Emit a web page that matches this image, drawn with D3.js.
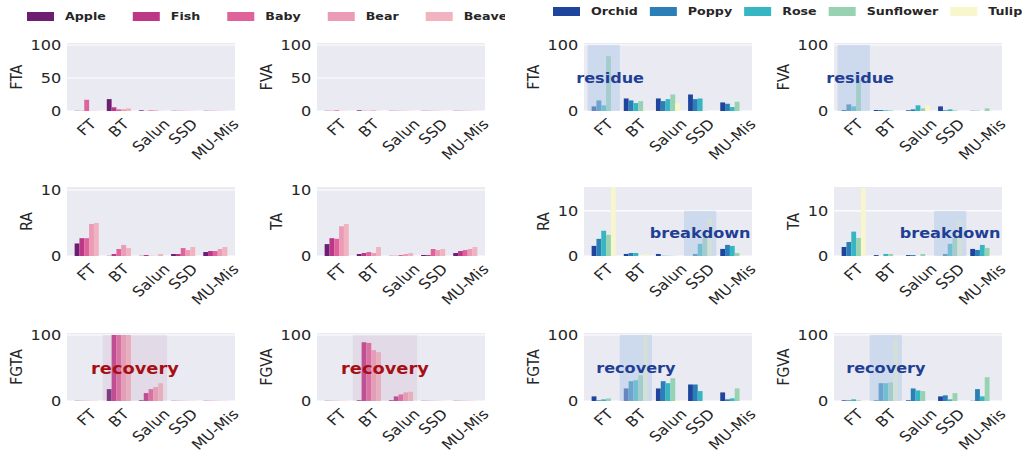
<!DOCTYPE html>
<html>
<head>
<meta charset="utf-8">
<script src="https://cdn.jsdelivr.net/npm/d3@7"></script>
<style>
  body { margin: 0; background: #fff; }
  text { font-family: "DejaVu Sans", sans-serif; }
</style>
</head>
<body>
<svg id="chart" width="1025" height="456"></svg>
<script>
// categories and series
var groups = ["FT", "BT", "Salun", "SSD", "MU-Mis"];
var leftNames = ["Apple", "Fish", "Baby", "Bear", "Beaver"];
var rightNames = ["Orchid", "Poppy", "Rose", "Sunflower", "Tulip"];
var leftColors = ["#6e1e72", "#bd3787", "#e0629b", "#eb9bb5", "#f0b3bf"];
var rightColors = ["#1f449b", "#2a7fb8", "#35b6c2", "#97d2b1", "#f7f6cc"];

// values[group][series]
var leftFTA = [[0.3,0.3,17,0.3,0.3],[18,5.6,2.5,2.5,4],[1,0.2,1,1,0.3],[0.3,0.3,0.3,0.3,0.3],[0.3,0.3,0.3,0.3,0.3]];
var leftFVA = [[0.3,0.3,1,0.3,0.3],[1,0.3,0.3,1,0.3],[0.3,0.3,0.3,0.3,0.3],[0.3,0.3,0.3,0.3,0.3],[0.3,0.3,0.3,0.3,0.3]];
var rightFTA = [[7,16,8.6,83,0],[19,16,12,15,1.5],[19,15,18,25,12],[25,18,19,0.3,0],[13,11,6,14,0]];
var rightFVA = [[1.5,10,7,47,0],[1.5,1.5,1,1,0],[1,2.5,8.6,4,8.6],[7,1,2.5,1,0],[0.3,0.3,0,4,0]];

var leftRA = [[1.9,2.7,2.7,4.85,5.0],[0.03,0.3,1.06,1.67,1.2],[0.03,0.15,0.03,0.03,0.3],[0.3,0.3,1.2,0.9,1.36],[0.6,0.75,0.75,1.06,1.36]];
var leftTA = [[1.8,2.7,2.6,4.5,4.85],[0.3,0.45,0.6,0.45,1.36],[0.03,0.03,0.15,0.3,0.45],[0.15,0.15,1.06,0.9,1.06],[0.45,0.75,0.9,1.06,1.36]];
var rightRA = [[2.24,3.8,5.6,4.7,16],[0.45,0.67,0.67,0,0.45],[0.45,0.05,0.05,0.05,0],[0,0.45,2.7,4.0,8.5],[1.57,2.46,2.24,0.67,0.2]];
var rightTA = [[2.0,3.1,5.4,4.0,15],[0.2,0,0.45,0.45,0],[0.2,0.2,0,0.45,0],[0,0.45,2.7,4.0,7.8],[1.57,1.34,2.46,1.8,0.2]];

var leftFGTA = [[0.3,0.3,0.3,0.3,0.3],[18,100,100,100,100],[1,12,18,21,27],[0.3,0.3,0.3,0.3,0.3],[0.3,0.3,0.3,0.3,0.3]];
var leftFGVA = [[0.3,0.3,0.3,0.3,0.3],[1,89,88,77,74],[1,7,10,13,14],[0.3,0.3,0.3,0.3,0.3],[0.3,0.3,0.3,0.3,0.3]];
var rightFGTA = [[7,1,2.5,4,0],[19,30,31.5,39,100],[19,30,27,34.5,1.5],[25,25,15,0,0],[13,2.5,4,19,0]];
var rightFGVA = [[1,1,2.5,1,0],[1,27,27,28,94],[1,19,16,15,0],[7,8.6,2.5,12,0],[0.3,18,7,36,0]];

var ticksBig = [0, 50, 100];
var ticksSmall = [0, 10];
var ticksTwo = [0, 100];

// layout
var SX = 1.15, FS = 14;
var colX = [67, 317, 584, 834];
var rowY = [43, 187, 333];
var pw = 168;
var svg = d3.select("#chart");

var blueNote = { fill: "#b0c8e6", alpha: 0.5, ink: "#1f3f94", size: 14 };
var redNote = { fill: "#c8a4bc", alpha: 0.22, ink: "#a50f15", size: 15.5 };

var panels = [
  { r:0, c:0, label:"FTA", data:leftFTA, colors:leftColors, ymax:103, ticks:ticksBig },
  { r:0, c:1, label:"FVA", data:leftFVA, colors:leftColors, ymax:103, ticks:ticksBig },
  { r:0, c:2, label:"FTA", data:rightFTA, colors:rightColors, ymax:103, ticks:ticksTwo,
    note:{ x0:-0.5, x1:0.5, top:100, text:"residue", tx:0.2, ty:50, style:blueNote } },
  { r:0, c:3, label:"FVA", data:rightFVA, colors:rightColors, ymax:103, ticks:ticksTwo,
    note:{ x0:-0.5, x1:0.5, top:100, text:"residue", tx:0.2, ty:50, style:blueNote } },
  { r:1, c:0, label:"RA", data:leftRA, colors:leftColors, ymax:10.45, ticks:ticksSmall },
  { r:1, c:1, label:"TA", data:leftTA, colors:leftColors, ymax:10.45, ticks:ticksSmall },
  { r:1, c:2, label:"RA", data:rightRA, colors:rightColors, ymax:15.3, ticks:ticksSmall,
    note:{ x0:2.5, x1:3.5, top:10, text:"breakdown", tx:3, ty:5, style:blueNote } },
  { r:1, c:3, label:"TA", data:rightTA, colors:rightColors, ymax:15.3, ticks:ticksSmall,
    note:{ x0:2.5, x1:3.5, top:10, text:"breakdown", tx:3, ty:5, style:blueNote } },
  { r:2, c:0, label:"FGTA", data:leftFGTA, colors:leftColors, ymax:103, ticks:ticksTwo,
    note:{ x0:0.5, x1:2.5, top:100, text:"recovery", tx:1.5, ty:50, style:redNote } },
  { r:2, c:1, label:"FGVA", data:leftFGVA, colors:leftColors, ymax:103, ticks:ticksTwo,
    note:{ x0:0.5, x1:2.5, top:100, text:"recovery", tx:1.5, ty:50, style:redNote } },
  { r:2, c:2, label:"FGTA", data:rightFGTA, colors:rightColors, ymax:103, ticks:ticksTwo,
    note:{ x0:0.5, x1:1.5, top:100, text:"recovery", tx:1, ty:50, style:blueNote } },
  { r:2, c:3, label:"FGVA", data:rightFGVA, colors:rightColors, ymax:103, ticks:ticksTwo,
    note:{ x0:0.5, x1:1.5, top:100, text:"recovery", tx:1, ty:50, style:blueNote } }
];

var barW = 0.15;

panels.forEach(function(p, k) {
  var ph = p.r == 1 ? 69 : 68;
  var g = svg.append("g").attr("transform", "translate(" + colX[p.c] + "," + rowY[p.r] + ")");
  var x = d3.scaleLinear().domain([-0.6125, 4.6125]).range([0, pw]);
  var y = d3.scaleLinear().domain([0, p.ymax]).range([ph, 0]);

  g.append("rect").attr("width", pw).attr("height", ph).attr("fill", "#eaeaf2");

  g.selectAll(".grid").data(p.ticks).enter().append("line")
    .attr("x1", 0).attr("x2", pw)
    .attr("y1", function(d) { return y(d); }).attr("y2", function(d) { return y(d); })
    .attr("stroke", "#fff").attr("stroke-width", 1.1);

  svg.append("clipPath").attr("id", "clip" + k)
    .append("rect").attr("width", pw).attr("height", ph);
  var plot = g.append("g").attr("clip-path", "url(#clip" + k + ")");

  // bars
  p.data.forEach(function(vals, gi) {
    plot.selectAll(".b" + gi).data(vals).enter().append("rect")
      .attr("x", function(d, si) { return x(gi + (si - 2) * barW - barW / 2); })
      .attr("width", x(barW) - x(0))
      .attr("y", function(d) { return y(Math.max(d, 0)); })
      .attr("height", function(d) { return Math.abs(y(0) - y(d)); })
      .attr("fill", function(d, si) { return p.colors[si]; });
  });

  // highlight span + note
  if (p.note) {
    var n = p.note;
    plot.append("rect")
      .attr("x", x(n.x0)).attr("width", x(n.x1) - x(n.x0))
      .attr("y", y(n.top)).attr("height", y(0) - y(n.top))
      .attr("fill", n.style.fill).attr("opacity", n.style.alpha);
    g.append("text")
      .attr("transform", "translate(" + x(n.tx) + "," + y(n.ty) + ") scale(" + SX + ",1)")
      .attr("text-anchor", "middle").attr("dominant-baseline", "central")
      .attr("font-size", n.style.size).attr("font-weight", "bold")
      .attr("fill", n.style.ink).text(n.text);
  }

  // y axis
  var ax = g.append("g")
    .call(d3.axisLeft(y).tickValues(p.ticks).tickSize(0).tickPadding(5).tickFormat(d3.format("d")));
  ax.select(".domain").remove();
  ax.selectAll("text").attr("font-size", FS).attr("fill", "#262626")
    .attr("font-family", "DejaVu Sans")
    .attr("transform", "scale(" + SX + ",1)");
  var bb = ax.node().getBBox();

  g.append("text")
    .attr("transform", "translate(" + (bb.x - 9) + "," + (ph / 2) + ") scale(" + SX + ",1) rotate(-90)")
    .attr("text-anchor", "middle").attr("font-size", FS).attr("fill", "#262626")
    .text(p.label);

  // x tick labels rotated 45, layout box top aligned under the axis
  groups.forEach(function(name, gi) {
    var t = g.append("text")
      .attr("text-anchor", "middle").attr("dominant-baseline", "central")
      .attr("font-size", FS).attr("fill", "#262626").text(name);
    var w = t.node().getComputedTextLength();
    var half = (w + FS * 1.164) * Math.SQRT1_2 / 2;
    t.attr("transform", "translate(" + x(gi) + "," + (ph + 5 + half) + ") scale(" + SX + ",1) rotate(-45)");
  });
});

// legends
function legend(names, colors, x0, cy, gap, clipW) {
  svg.append("clipPath").attr("id", "lc" + x0)
    .append("rect").attr("x", x0 - 5).attr("y", 0).attr("width", clipW).attr("height", 30);
  var lg = svg.append("g").attr("clip-path", "url(#lc" + x0 + ")");
  var cx = x0;
  names.forEach(function(name, i) {
    lg.append("rect").attr("x", cx).attr("y", cy - 4.5).attr("width", 27).attr("height", 9)
      .attr("fill", colors[i]);
    var t = lg.append("text")
      .attr("transform", "translate(" + (cx + 38) + "," + cy + ") scale(" + SX + ",1)")
      .attr("dominant-baseline", "central").attr("font-size", 11).attr("font-weight", "bold")
      .attr("fill", "#262626").text(name);
    cx = cx + 38 + t.node().getComputedTextLength() * SX + gap;
  });
}
legend(leftNames, leftColors, 27, 16.5, 27, 483);
legend(rightNames, rightColors, 553, 11.5, 12, 480);
</script>
</body>
</html>
